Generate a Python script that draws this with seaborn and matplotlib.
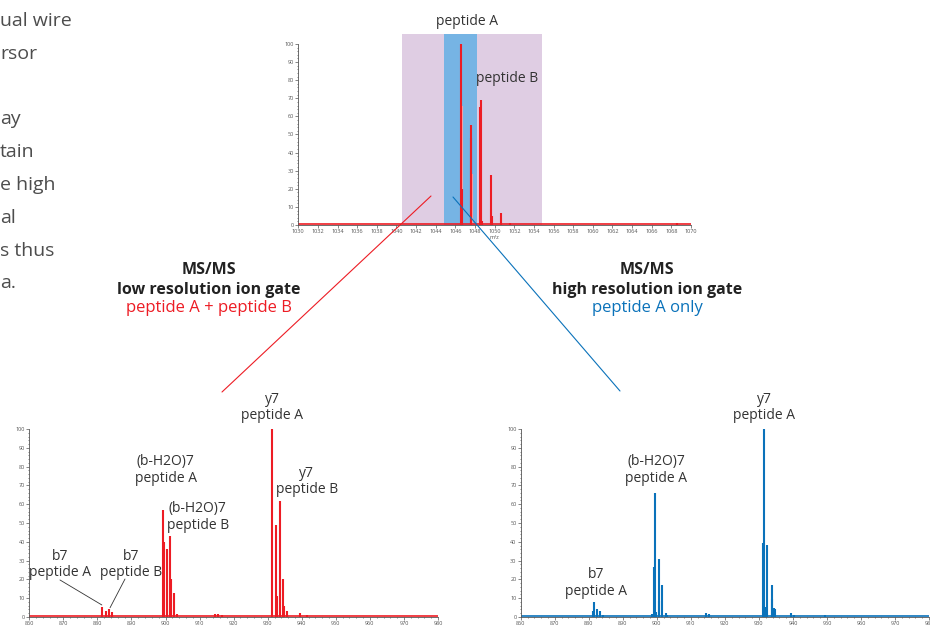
import seaborn as sns
import matplotlib.pyplot as plt
from matplotlib.ticker import MultipleLocator
from matplotlib.lines import Line2D

# precursor scan (top panel)
ms1_mz = [1046.57, 1046.67, 1047.55, 1047.60, 1048.53, 1048.60, 1048.71,
          1049.60, 1049.73, 1050.60, 1051.60, 1068.60]
ms1_int = [100, 20, 48, 55, 65, 69, 2, 27.5, 5, 6.5, 1, 1]
# faint overlaid trace behind the precursor peaks
ms1_ghost_mz = [1046.72, 1047.70, 1048.65, 1049.65, 1050.62]
ms1_ghost_int = [66, 28, 34, 9, 4]
low_gate = (1040.56, 1054.8)
high_gate = (1044.84, 1048.17)

# MS/MS, low resolution ion gate
low_mz = [881.3, 882.5, 883.4, 884.4, 899.3, 899.6, 900.3, 901.3, 901.7, 902.4,
          903.4, 914.5, 915.5, 916.5, 931.4, 932.5, 932.8, 933.5, 934.6, 934.8,
          935.6, 939.6, 941.5]
low_int = [5.2, 3.2, 4, 2.7, 57, 40, 36, 43, 20, 13, 1.5, 1.6, 1.4, 1, 100, 49,
           11, 61.5, 20, 6, 3, 2, 1]

# MS/MS, high resolution ion gate
high_mz = [881.3, 881.5, 882.5, 883.4, 884.2, 898.5, 899.2, 899.5, 899.8, 900.5,
           900.7, 901.5, 902.6, 903.0, 914.5, 915.4, 931.2, 931.6, 931.9, 932.5,
           933.7, 933.9, 934.5, 934.7, 939.4, 940.3, 949.4]
high_int = [3, 8.2, 4.3, 3.4, 1, 1.5, 26.6, 66, 2.5, 30.7, 8.7, 17, 2, 1.2, 2,
            1.5, 39.5, 100, 5.5, 38.4, 17.2, 9.6, 4.8, 4.4, 2, 1, 0.8]
baseline_level = 0.5

# peak labels (text, m/z, height)
low_labels = [("b7\npeptide A", 869.0, 27.7), ("b7\npeptide B", 889.9, 27.7),
              ("(b-H2O)7\npeptide A", 900.1, 78.2), ("(b-H2O)7\npeptide B", 909.5, 53.2),
              ("y7\npeptide A", 931.3, 111.2), ("y7\npeptide B", 941.5, 72.3)]
high_labels = [("b7\npeptide A", 882.1, 18.1), ("(b-H2O)7\npeptide A", 899.8, 78.2),
               ("y7\npeptide A", 931.5, 111.2)]
top_labels = [("peptide A", 1047.2, 112.7), ("peptide B", 1051.3, 80.7)]

# cut-off paragraph on the left edge
para_lines = ["ual wire", "rsor", "", "ay", "tain", "e high", "al", "s thus", "a."]

RED = "#ed1c24"
BLUE = "#0a72ba"
PURPLE = "#dfcde3"
LBLUE = "#76b4e4"
TXT = "#333333"

sns.set_style("ticks")
plt.rcParams["font.family"] = ["Open Sans", "DejaVu Sans"]

W, H = 930, 626
fig = plt.figure(figsize=(9.3, 6.26), dpi=100)


def box(x0, y_top, x1, y_bot):
    return [x0 / W, 1 - y_bot / H, (x1 - x0) / W, (y_bot - y_top) / H]


def style(ax, xlim, major, minor=None):
    ax.set_xlim(*xlim)
    ax.set_ylim(0, 100)
    ax.xaxis.set_major_locator(MultipleLocator(major))
    if minor:
        ax.xaxis.set_minor_locator(MultipleLocator(minor))
    ax.yaxis.set_major_locator(MultipleLocator(10))
    ax.yaxis.set_minor_locator(MultipleLocator(2))
    ax.tick_params(which="both", labelsize=4, colors="#555555", width=0.5,
                   length=2, pad=1)
    ax.tick_params(which="minor", length=1)
    sns.despine(ax=ax)
    for s in ["left", "bottom"]:
        ax.spines[s].set_color("#555555")
        ax.spines[s].set_linewidth(0.6)
    ax.patch.set_alpha(0)


def spectrum(ax, mz, inten, color, xlim):
    sns.lineplot(x=list(xlim), y=[baseline_level] * 2, ax=ax, color=color, lw=1.2)
    ax.vlines(mz, 0, inten, color=color, lw=1.5)


# top: precursor scan with ion gates
ax_top = fig.add_axes(box(298.3, 44, 691, 225))
style(ax_top, (1030, 1070), 2)
ax_top.axvspan(*low_gate, ymin=0, ymax=1.055, color=PURPLE, lw=0, clip_on=False, zorder=0)
ax_top.axvspan(*high_gate, ymin=0, ymax=1.055, color=LBLUE, lw=0, clip_on=False, zorder=0)
ax_top.vlines(ms1_ghost_mz, 0, ms1_ghost_int, color="#f4a3a7", lw=1.5)
spectrum(ax_top, ms1_mz, ms1_int, RED, (1030, 1070))
for t, x, y in top_labels:
    ax_top.text(x, y, t, ha="center", va="center", fontsize=10, color=TXT, clip_on=False)

# bottom left: low resolution gate
ax_low = fig.add_axes(box(29.3, 429, 438, 617))
style(ax_low, (860, 980), 10, 2)
spectrum(ax_low, low_mz, low_int, RED, (860, 980))
for t, x, y in low_labels:
    ax_low.text(x, y, t, ha="center", va="center", fontsize=10, color=TXT,
                linespacing=1.1, clip_on=False)
ax_low.plot([869.0, 881.3], [19.7, 6.4], color=TXT, lw=0.6)
ax_low.plot([888.1, 883.7], [20.2, 4.9], color=TXT, lw=0.6)

# bottom right: high resolution gate
ax_high = fig.add_axes(box(520.7, 429, 929.1, 617))
style(ax_high, (860, 980), 10, 2)
spectrum(ax_high, high_mz, high_int, BLUE, (860, 980))
for t, x, y in high_labels:
    ax_high.text(x, y, t, ha="center", va="center", fontsize=10, color=TXT,
                 linespacing=1.1, clip_on=False)

for ax in (ax_low, ax_high):
    ax.set_xlabel("")
    ax.set_ylabel("")
ax_top.set_ylabel("")
ax_top.set_xlabel("m/z", fontsize=4, labelpad=0.5, color="#555555")

# connector lines from the gates to the MS/MS panels
fig.add_artist(Line2D([222 / W, 431 / W], [1 - 392 / H, 1 - 196 / H],
                      transform=fig.transFigure, color=RED, lw=0.8))
fig.add_artist(Line2D([453 / W, 620 / W], [1 - 197 / H, 1 - 391 / H],
                      transform=fig.transFigure, color=BLUE, lw=0.8))

# gate captions
for cx, lines, col in [(209, ["MS/MS", "low resolution ion gate", "peptide A + peptide B"], RED),
                       (647, ["MS/MS", "high resolution ion gate", "peptide A only"], BLUE)]:
    for i, (line, y) in enumerate(zip(lines, [270, 289.5, 308])):
        fig.text(cx / W, 1 - y / H, line, ha="center", va="center",
                 fontsize=12 if i == 2 else 11.5,
                 color=col if i == 2 else "#222222",
                 fontweight="normal" if i == 2 else "bold")

# clipped paragraph text
for i, line in enumerate(para_lines):
    y = 21 + i * 32.8
    fig.text(0, 1 - y / H, line, ha="left", va="center", fontsize=14, color="#4d4d4d")

fig.savefig("out.png", dpi=100)
